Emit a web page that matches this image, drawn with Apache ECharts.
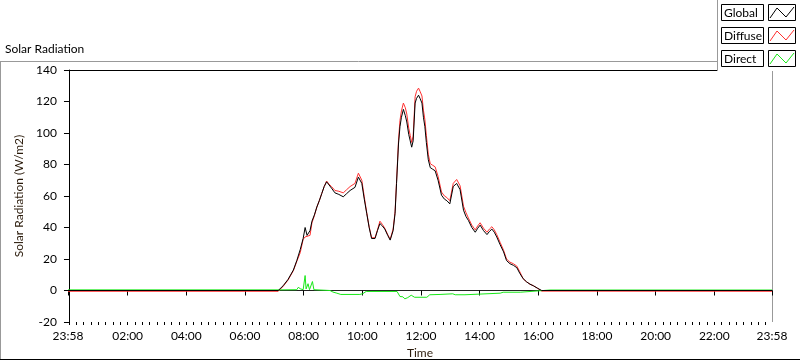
<!DOCTYPE html>
<html>
<head>
<meta charset="utf-8">
<script src="https://cdn.jsdelivr.net/npm/echarts@6/dist/echarts.min.js"></script>
<style>
  html, body { margin: 0; padding: 0; background: #fff; }
  #chart { width: 800px; height: 361px; }
</style>
</head>
<body>
<div id="chart"></div>
<script>
// time in minutes after midnight (-2 = 23:58 of previous day)
var timeMin = [-2, 428, 438, 448, 459, 466, 473, 479, 483, 487, 493, 497, 502, 507, 512, 517, 522, 527, 532, 537,
    544, 552, 561, 568, 575, 585, 592, 599, 604, 609, 614, 619, 626, 631, 636, 641, 646, 652, 657, 663,
    667, 670, 674, 677, 680, 684, 688, 691, 695, 698, 701, 704, 708, 711, 715, 718, 722, 725, 728, 731,
    735, 739, 744, 749, 755, 762, 768, 773, 779, 786, 793, 800, 807, 812, 817, 824, 831, 836, 841, 848,
    855, 860, 865, 870, 875, 882, 889, 895, 902, 909, 916, 922, 929, 936, 943, 950, 958, 967, 1438]

var globalVals = [0, 0, 3, 7, 13, 19, 26, 33, 40, 35, 38, 44, 48, 53, 57, 61.5, 66, 69, 67, 65,
    62, 61, 59.5, 61.5, 63.5, 65.5, 72, 68, 58, 49, 40, 33, 33, 38, 42.5, 41, 39, 35, 32, 38,
    49, 68, 93, 104, 110, 115, 111, 107, 99, 95, 91, 95, 119, 122, 124, 122, 119, 110, 104, 94,
    83, 78, 77, 76, 70, 60.5, 58, 57, 55, 66, 68, 64, 51, 47, 44.5, 40, 37, 39.5, 41.5, 38,
    35.5, 37.5, 39, 37, 34, 29, 24.5, 19, 17, 16, 14.5, 11, 7.5, 5.5, 4, 3, 1.5, 0, 0]

var diffuseVals = [-0.5, -0.5, 2.6, 6.6, 12.6, 18.5, 24, 32.5, 34, 33.5, 35, 43, 47.5, 53, 57, 61.5, 66, 69.5, 67.5, 66,
    63.5, 63, 62, 64, 66, 68, 74.5, 70, 59.5, 49.5, 40.5, 33.5, 33.5, 38.5, 44, 42, 39.5, 35.5, 32.5, 39,
    50, 69, 95, 108, 114, 119, 116, 112, 103, 98.5, 94, 98, 123, 126.5, 128.5, 126.5, 123.5, 114.5, 108.5, 98.5,
    86.5, 80.5, 79.5, 78.5, 72.5, 62.5, 60, 59, 57, 68, 70.5, 66.5, 53.5, 49.5, 46, 41.5, 38.5, 41, 43, 39.5,
    37, 39, 40.5, 38.5, 35.5, 30.5, 25.5, 20, 18, 17, 15.5, 12, 7.5, 5.5, 4, 3, 1.5, -0.4, -0.5]

var directTime = [-2, 430, 466, 469, 471, 474, 477, 479, 483, 485, 487, 489, 492, 495, 498, 501, 505, 534, 540, 548,
    556, 595, 601, 608, 671, 677, 683, 687, 693, 700, 703, 707, 732, 738, 759, 762, 785, 790, 810, 814,
    882, 888, 923, 927, 984, 1438]
var directVals = [0.4, 0.4, 0.5, 2, 3.2, 1, 1.5, 0.5, 9.5, 1, 1.5, 4.3, 0.5, 1, 5.7, 0.5, 0, 0, -1, -1.7,
    -2.5, -2.5, -2, -0.6, -0.6, -3.8, -4, -5.3, -4.5, -3, -2.5, -4.3, -4.3, -2.7, -2.5, -2.1, -2.1, -2.7, -2.7, -1.7,
    -1.7, -1.1, -1.1, 0, 0.3, 0.3]

var xLabelValues = [-2, 120, 240, 360, 480, 600, 720, 840, 960, 1080, 1200, 1320, 1438]
var yTicks = { min: -20, max: 140, step: 20 }
var legendNames = ['Global', 'Diffuse', 'Direct']
var seriesColors = ['#000000', '#ff3030', '#18e818']

var minorTicks = []
for (var m = 0; m < 1440; m += 15) minorTicks.push(m)

function pairs(xs, ys) {
    var out = []
    for (var i = 0; i < xs.length; i++) out.push([xs[i], ys[i]])
    return out
}

function fmtTime(v) {
    var t = (v + 1440) % 1440
    var h = Math.floor(t / 60), mm = t % 60
    return (h < 10 ? '0' : '') + h + ':' + (mm < 10 ? '0' : '') + mm
}

var font = 'Lato'
var chart = echarts.init(document.getElementById('chart'), null, { renderer: 'canvas' })

// legend box drawn by hand (LabVIEW-style plot legend)
var legendGraphics = [
    { type: 'rect', shape: { x: 717, y: 0, width: 83, height: 71 }, style: { fill: '#fff' }, z: 10 },
    { type: 'line', shape: { x1: 717.5, y1: 0, x2: 717.5, y2: 71 }, style: { stroke: '#999', lineWidth: 1 }, z: 11 },
]
legendNames.forEach(function (name, i) {
    var y0 = 4 + i * 23
    legendGraphics.push(
        { type: 'rect', shape: { x: 721.5, y: y0 + 0.5, width: 42, height: 16 }, style: { fill: '#fff', stroke: '#000', lineWidth: 1 }, z: 11 },
        { type: 'text', x: 724, y: y0 + 9, style: { text: name, font: '12px ' + font, fill: '#000', textVerticalAlign: 'middle' }, z: 12 },
        { type: 'rect', shape: { x: 768.5, y: y0 + 0.5, width: 27, height: 16 }, style: { fill: '#fff', stroke: '#000', lineWidth: 1 }, z: 11 },
        { type: 'polyline', shape: { points: [[770, y0 + 14], [777, y0 + 4], [786, y0 + 13], [794, y0 + 3]] }, style: { stroke: seriesColors[i], lineWidth: 1, fill: null }, z: 12 }
    )
})

var option = {
    animation: false,
    backgroundColor: '#fff',
    title: {
        text: 'Solar Radiation',
        left: 5,
        top: 43,
        padding: 0,
        textStyle: { fontFamily: font, fontSize: 12, fontWeight: 'normal', color: '#000' },
    },
    grid: { left: 68, right: 28, top: 70, bottom: 39, containLabel: false, outerBoundsMode: 'none' },
    xAxis: [
        {
            type: 'value',
            min: -2,
            max: 1438,
            name: 'Time',
            nameLocation: 'middle',
            nameGap: 24,
            nameTextStyle: { fontFamily: font, fontSize: 12, color: '#2a1a0a' },
            axisLine: { show: true, lineStyle: { color: '#222', width: 1 } },
            axisTick: { show: true, length: 5, customValues: xLabelValues, lineStyle: { color: '#000' } },
            axisLabel: {
                customValues: xLabelValues,
                margin: 8,
                fontFamily: font,
                fontSize: 12,
                color: '#000',
                formatter: fmtTime,
            },
            splitLine: { show: false },
        },
        {
            type: 'value',
            min: -2,
            max: 1438,
            position: 'bottom',
            axisLine: { show: false },
            axisTick: { show: true, length: 3, customValues: minorTicks, lineStyle: { color: '#000' } },
            axisLabel: { show: false },
            splitLine: { show: false },
        },
    ],
    yAxis: {
        type: 'value',
        min: yTicks.min,
        max: yTicks.max,
        interval: yTicks.step,
        name: 'Solar Radiation (W/m2)',
        nameLocation: 'middle',
        nameGap: 33,
        nameTextStyle: { fontFamily: font, fontSize: 12, color: '#2a1a0a' },
        axisLine: { show: true, lineStyle: { color: '#000', width: 1 } },
        axisTick: { show: true, length: 5, lineStyle: { color: '#000' } },
        axisLabel: { margin: 11, fontFamily: font, fontSize: 12, color: '#000' },
        splitLine: { show: false },
    },
    series: [
        {
            name: 'Diffuse',
            type: 'line',
            data: pairs(timeMin, diffuseVals),
            showSymbol: false,
            lineStyle: { color: seriesColors[1], width: 1 },
            z: 2,
        },
        {
            name: 'Direct',
            type: 'line',
            data: pairs(directTime, directVals),
            showSymbol: false,
            lineStyle: { color: seriesColors[2], width: 1 },
            z: 3,
        },
        {
            name: 'Global',
            type: 'line',
            data: pairs(timeMin, globalVals),
            showSymbol: false,
            lineStyle: { color: seriesColors[0], width: 1 },
            z: 4,
        },
    ],
    graphic: [
        // panel frame
        { type: 'line', shape: { x1: 0, y1: 61.5, x2: 717, y2: 61.5 }, style: { stroke: '#999', lineWidth: 1 } },
        { type: 'line', shape: { x1: 0.5, y1: 61.5, x2: 0.5, y2: 360 }, style: { stroke: '#999', lineWidth: 1 } },
        { type: 'line', shape: { x1: 0, y1: 359.5, x2: 800, y2: 359.5 }, style: { stroke: '#000', lineWidth: 1 } },
        // plot frame top and right
        { type: 'line', shape: { x1: 68, y1: 70.5, x2: 772, y2: 70.5 }, style: { stroke: '#000', lineWidth: 1 } },
        { type: 'line', shape: { x1: 772.5, y1: 70, x2: 772.5, y2: 322 }, style: { stroke: '#999', lineWidth: 1 } },
    ].concat(legendGraphics),
}

chart.setOption(option)
</script>
</body>
</html>
